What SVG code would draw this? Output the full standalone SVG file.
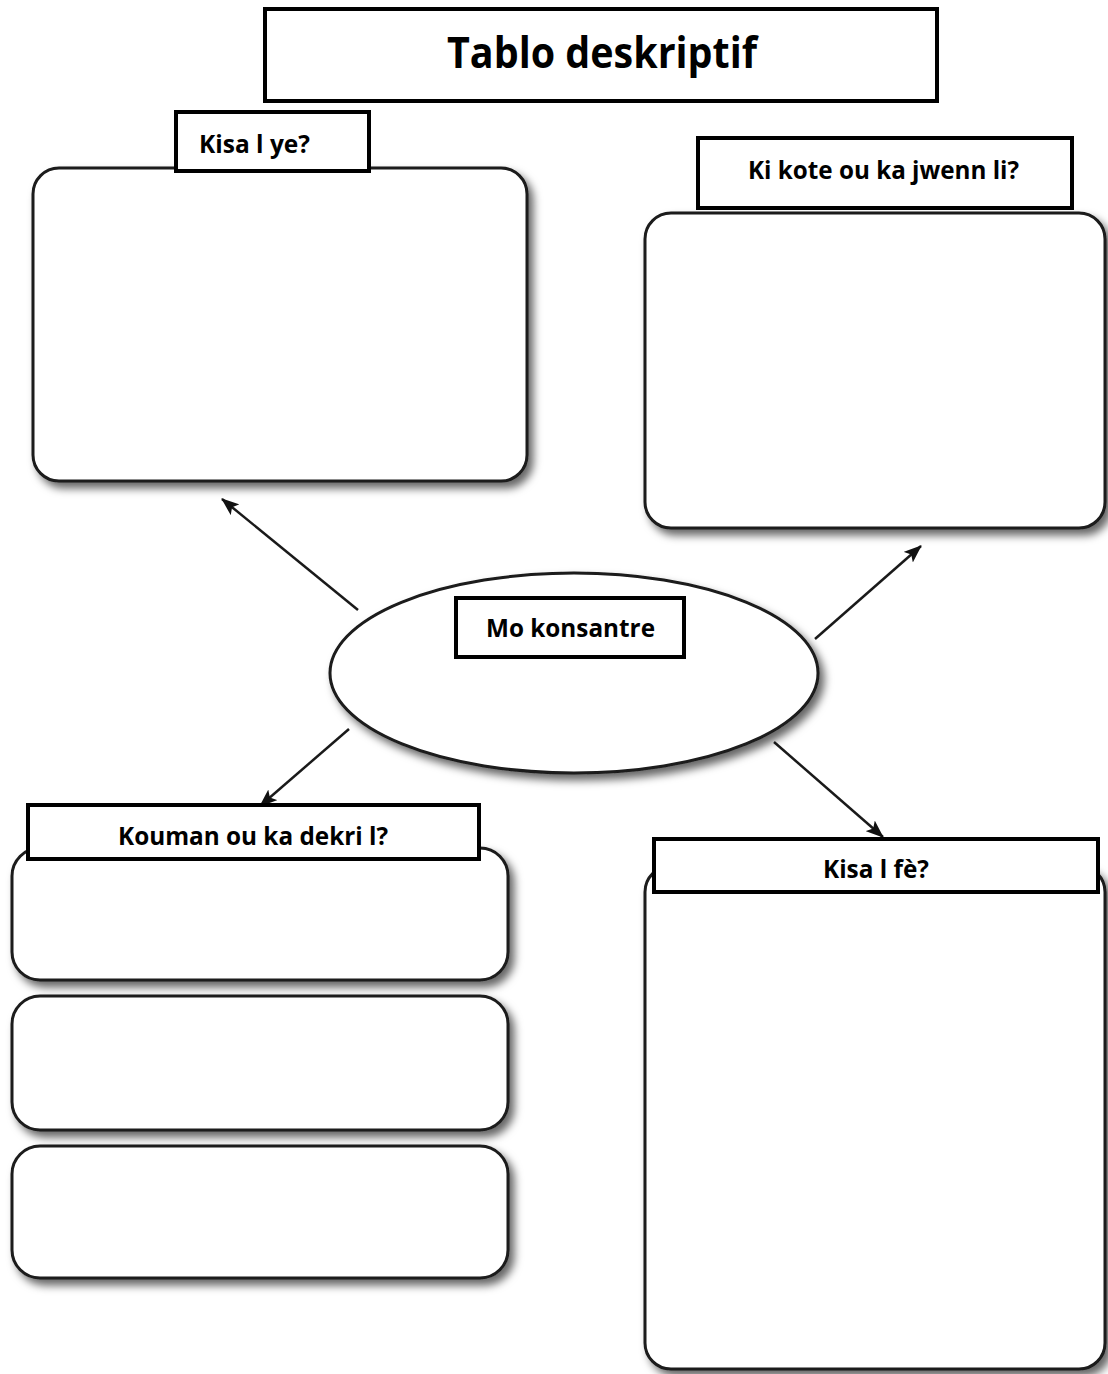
<svg xmlns="http://www.w3.org/2000/svg" width="1108" height="1374" viewBox="0 0 1108 1374">
<style>
.bg{fill:#ffffff}
.card{fill:#ffffff;stroke:#1a1a1a;stroke-width:3;filter:url(#sh)}
.lab{fill:#ffffff;stroke:#000000;stroke-width:4}
.t{font-family:"Open Sans","Liberation Sans",sans-serif;font-weight:700;fill:#000000}
.s{font-size:25px}
.big{font-size:43px}
.con{stroke:#1a1a1a;stroke-width:2.5;fill:none;marker-end:url(#ah)}
</style>
<defs>
<filter id="sh" x="-10%" y="-10%" width="125%" height="135%">
<feDropShadow dx="5" dy="6" stdDeviation="4" flood-color="#000000" flood-opacity="0.6"/>
</filter>
<marker id="ah" markerUnits="userSpaceOnUse" markerWidth="18" markerHeight="14" refX="17" refY="7" orient="auto">
<path d="M0,0 L18,7 L0,14 L4,7 z" fill="#111111"/>
</marker>
</defs>
<rect class="bg" x="0" y="0" width="1108" height="1374"/>

<g id="title">
<rect class="lab" x="265" y="9" width="672" height="92"/>
<text class="t big" x="447" y="68" textLength="310" lengthAdjust="spacingAndGlyphs">Tablo deskriptif</text>
</g>

<g id="connectors">
<line class="con" x1="358" y1="610" x2="222" y2="499"/>
<line class="con" x1="815" y1="639" x2="921" y2="546"/>
<line class="con" x1="349" y1="729" x2="260" y2="806"/>
<line class="con" x1="774" y1="742" x2="883" y2="837"/>
</g>

<g id="kisa-l-ye">
<rect class="card" x="33" y="168" width="494" height="313" rx="26" ry="26"/>
<rect class="lab" x="176" y="112" width="193" height="59"/>
<text class="t s" x="199" y="153" textLength="111" lengthAdjust="spacingAndGlyphs">Kisa l ye?</text>
</g>

<g id="ki-kote">
<rect class="card" x="645" y="213" width="460" height="315" rx="26" ry="26"/>
<rect class="lab" x="698" y="138" width="374" height="70"/>
<text class="t s" x="748" y="179" textLength="271" lengthAdjust="spacingAndGlyphs">Ki kote ou ka jwenn li?</text>
</g>

<g id="mo-konsantre">
<ellipse class="card" cx="574" cy="673" rx="244" ry="100"/>
<rect class="lab" x="456" y="598" width="228" height="59"/>
<text class="t s" x="486" y="637" textLength="169" lengthAdjust="spacingAndGlyphs">Mo konsantre</text>
</g>

<g id="kouman">
<rect class="card" x="12" y="848" width="496" height="132" rx="28" ry="28"/>
<rect class="card" x="12" y="996" width="496" height="134" rx="28" ry="28"/>
<rect class="card" x="12" y="1146" width="496" height="132" rx="28" ry="28"/>
<rect class="lab" x="28" y="805" width="451" height="54"/>
<text class="t s" x="118" y="845" textLength="270" lengthAdjust="spacingAndGlyphs">Kouman ou ka dekri l?</text>
</g>

<g id="kisa-l-fe">
<rect class="card" x="645" y="866" width="460" height="503" rx="26" ry="26"/>
<rect class="lab" x="654" y="839" width="444" height="53"/>
<text class="t s" x="823" y="878" textLength="106" lengthAdjust="spacingAndGlyphs">Kisa l fè?</text>
</g>
</svg>
